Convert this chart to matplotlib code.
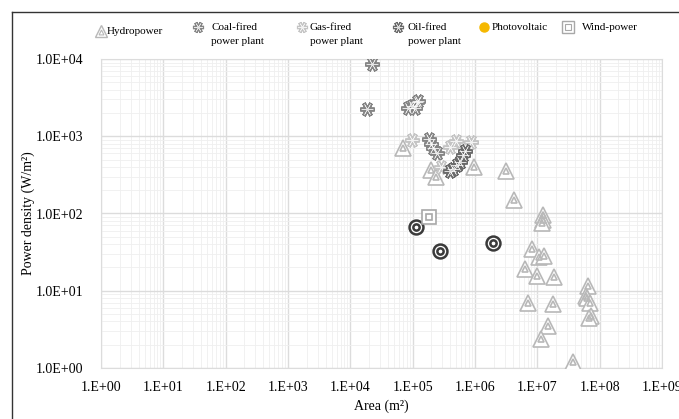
import matplotlib.pyplot as plt
from matplotlib.lines import Line2D

plt.rcParams["font.family"] = ["Liberation Serif", "DejaVu Serif"]

# 数据 (面积 m2, 功率密度 W/m2)
hydro_x = [7e4, 1.96e5, 2.4e5, 9.7e5, 3.2e6, 4.3e6, 1.25e7, 1.22e7, 1.2e7,
           8.2e6, 1.05e7, 1.26e7, 6.3e6, 9.8e6, 1.87e7, 6.5e7, 6.0e7, 6.2e7,
           6.9e7, 7.2e7, 6.8e7, 7.2e6, 1.8e7, 1.46e7, 1.15e7, 3.8e7]
hydro_y = [700, 365, 300, 400, 355, 150, 95, 82, 76,
           35, 27, 28, 19, 15.5, 15, 11.5, 8.5, 8.0,
           7.0, 4.7, 4.5, 7.0, 6.7, 3.5, 2.35, 1.2]

coal_x = [2.2e4, 1.85e4, 8.5e4, 9.7e4, 1.1e5, 1.17e5, 1.23e5,
          1.8e5, 2.0e5, 2.15e5, 2.45e5]
coal_y = [8.6e3, 2.25e3, 2.35e3, 2.5e3, 2.3e3, 2.8e3, 2.9e3,
          935, 805, 695, 600]

gas_x = [9.7e4, 4.0e5, 5.0e5, 8.5e5, 2.8e5]
gas_y = [890, 730, 870, 850, 400]

oil_x = [4.0e5, 4.5e5, 5.1e5, 5.8e5, 6.5e5, 6.95e5]
oil_y = [350, 380, 420, 470, 570, 645]

pv_x = [1.14e5, 2.75e5, 1.94e6]
pv_y = [66, 33, 41]

wind_x = [1.86e5]
wind_y = [91]

x_ticks = [10.0 ** i for i in range(0, 10)]
x_labels = ["1.E+%02d" % i for i in range(0, 10)]
y_ticks = [10.0 ** i for i in range(0, 5)]
y_labels = ["1.0E+%02d" % i for i in range(0, 5)]

W, H = 679, 419
STAR = (6, 2, 90)


def double_marker(ax, x, y, marker, color, ms, inner_ms, lw=1.2, **kw):
    """双线空心标记"""
    ax.plot(x, y, ls="none", marker=marker, ms=ms, mfc="white", mec=color, mew=lw, zorder=3, **kw)
    ax.plot(x, y, ls="none", marker=marker, ms=inner_ms, mfc="none", mec=color, mew=lw, zorder=3, **kw)


def double_star(ax, x, y, color, ms=10.5, **kw):
    """空心星号"""
    ax.plot(x, y, ls="none", marker=STAR, ms=ms, mec=color, mew=2.8, zorder=3, **kw)
    ax.plot(x, y, ls="none", marker=STAR, ms=ms - 2, mec="white", mew=0.4, alpha=0.8, zorder=3, **kw)


fig = plt.figure(figsize=(W / 100, H / 100), dpi=100)
ax = fig.add_axes([101 / W, 1 - 368 / H, 561 / W, 309 / H])

c_hydro = "#b8b8b8"
c_coal = "#858585"
c_gas = "#c4c4c4"
c_oil = "#6a6a6a"
c_pv = "#3a3a3a"
c_wind = "#a8a8a8"

double_marker(ax, hydro_x, hydro_y, "^", c_hydro, 11, 5)
double_star(ax, coal_x, coal_y, c_coal)
double_star(ax, gas_x, gas_y, c_gas)
double_star(ax, oil_x, oil_y, c_oil)
double_marker(ax, pv_x, pv_y, "o", c_pv, 10, 4.5, lw=1.8)
double_marker(ax, wind_x, wind_y, "s", c_wind, 10, 4.5)

ax.set_xscale("log")
ax.set_yscale("log")
ax.set_xlim(1, 1e9)
ax.set_ylim(1, 1e4)
ax.set_xticks(x_ticks)
ax.set_xticklabels(x_labels)
ax.set_yticks(y_ticks)
ax.set_yticklabels(y_labels)
ax.tick_params(which="both", length=0, labelsize=10, colors="black")
ax.tick_params(axis="x", pad=9)
ax.tick_params(axis="y", pad=13)

ax.grid(which="major", color="#dcdcdc", lw=1.0)
ax.grid(which="minor", color="#efefef", lw=0.6)
ax.set_axisbelow(True)
for sp in ax.spines.values():
    sp.set_color("#dcdcdc")

ax.set_xlabel("Area (m²)", fontsize=10, labelpad=4)
ax.set_ylabel("Power density (W/m²)", fontsize=10)
ax.yaxis.set_label_coords((35 - 101) / 561, 0.5)

# 图例 (手动排布)
def fx(px):
    return px / W


def fy(py):
    return 1 - py / H


def legend_icon(px, py, **kw):
    fig.add_artist(Line2D([fx(px)], [fy(py)], ls="none", transform=fig.transFigure, **kw))


legend_icon(101, 31, marker="^", ms=8, mfc="white", mec=c_hydro, mew=1.0)
legend_icon(101, 31.5, marker="^", ms=3.5, mfc="none", mec=c_hydro, mew=0.8)
fig.text(fx(107), fy(31), "Hydropower", fontsize=8, va="center")

star_items = [(198, 211, c_coal, "Coal-fired"), (302, 310, c_gas, "Gas-fired"),
              (398, 408, c_oil, "Oil-fired")]
for ix, tx, col, name in star_items:
    legend_icon(ix, 27, marker=STAR, ms=8, mec=col, mew=2.4)
    legend_icon(ix, 27, marker=STAR, ms=6.5, mec="white", mew=0.4, alpha=0.8)
    fig.text(fx(tx), fy(27), name, fontsize=8, va="center")
    fig.text(fx(tx), fy(41), "power plant", fontsize=8, va="center")

legend_icon(484, 27, marker="o", ms=6.5, mfc="#f5b800", mec="#f5b800")
fig.text(fx(492), fy(27), "Photovoltaic", fontsize=8, va="center")

legend_icon(568, 27, marker="s", ms=9, mfc="white", mec=c_wind, mew=1.0)
legend_icon(568, 27, marker="s", ms=4, mfc="none", mec=c_wind, mew=0.8)
fig.text(fx(582), fy(27), "Wind-power", fontsize=8, va="center")

# 外框
fig.add_artist(Line2D([fx(11.5), fx(11.5)], [0, fy(12)], color="#333333", lw=1.0))
fig.add_artist(Line2D([fx(11.5), 1], [fy(12), fy(12)], color="#333333", lw=1.0))

fig.savefig("out.png", dpi=100)
plt.close()
